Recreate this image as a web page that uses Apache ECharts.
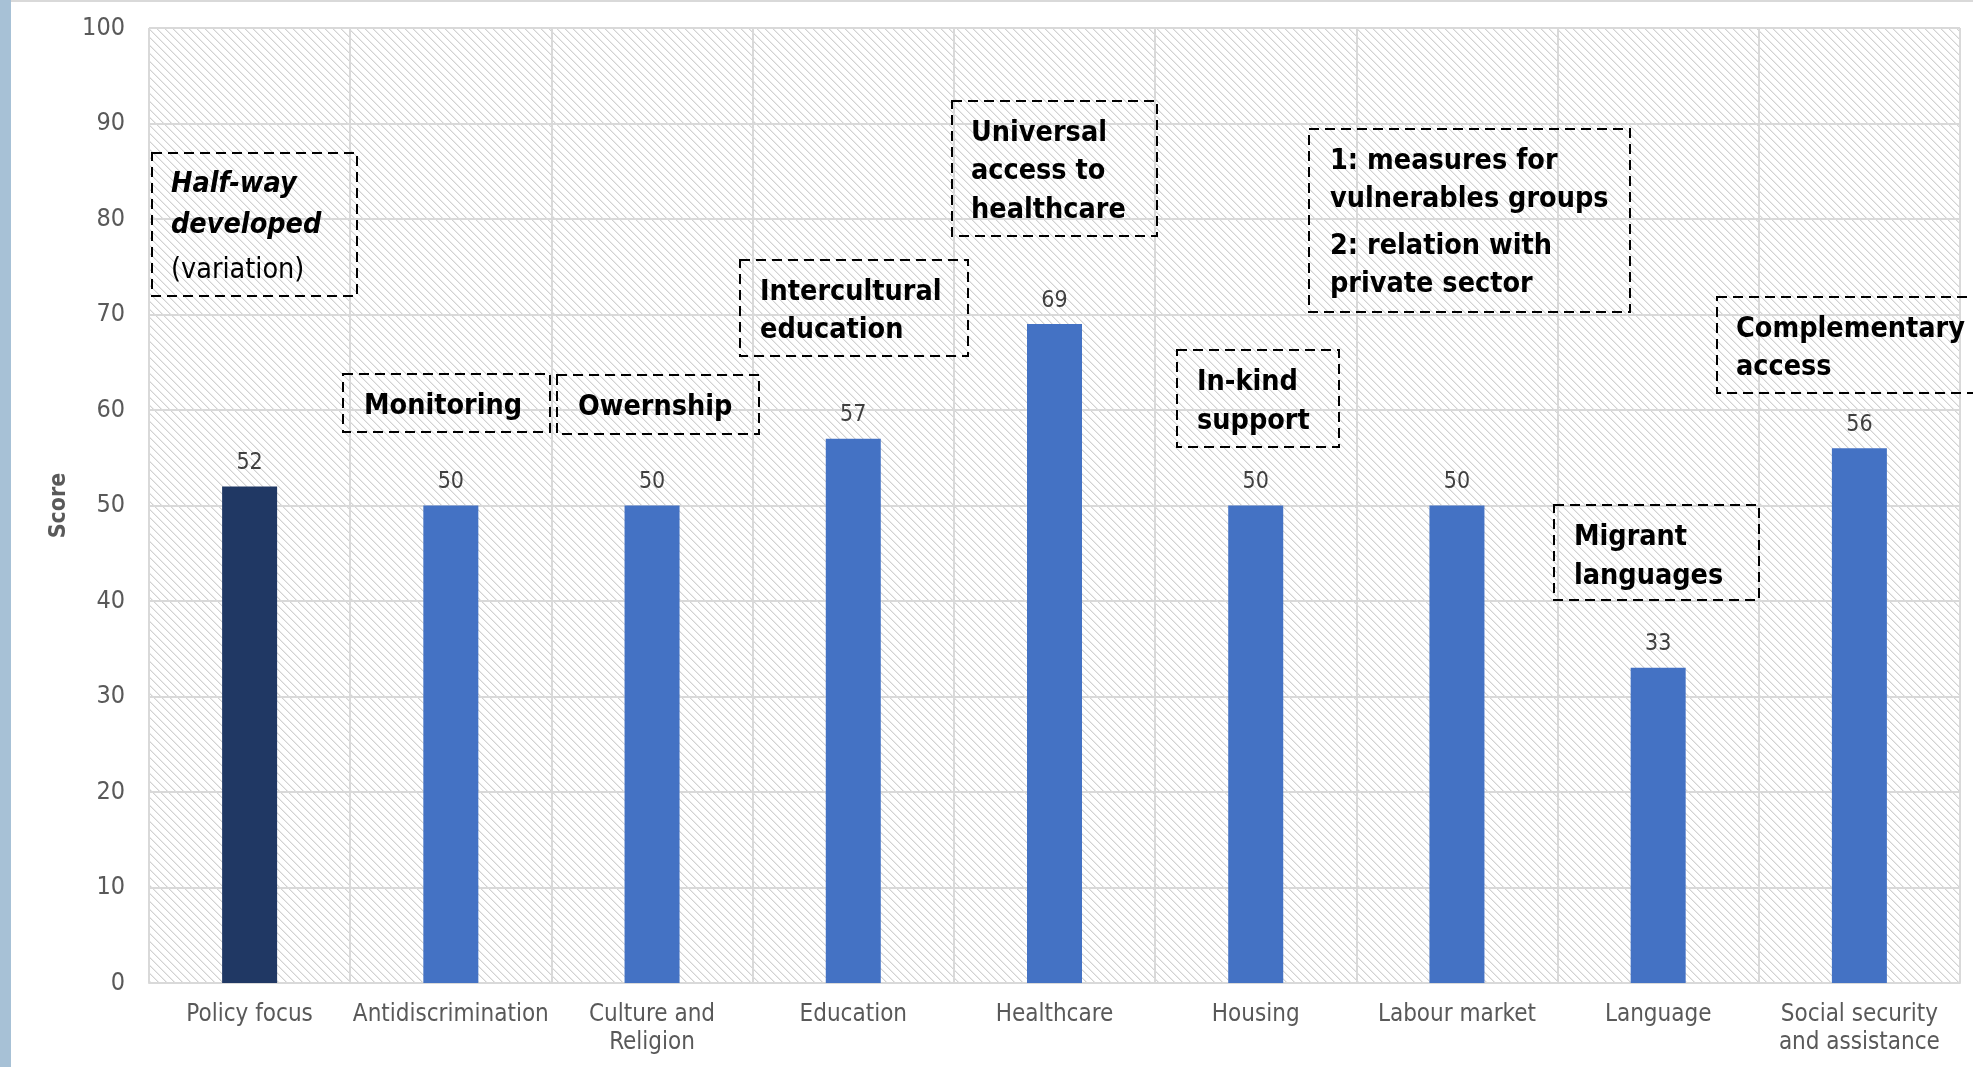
<!DOCTYPE html>
<html>
<head>
<meta charset="utf-8">
<title>Score by policy area</title>
<script src="https://cdn.jsdelivr.net/npm/echarts@6/dist/echarts.min.js"></script>
<style>
  html, body { margin: 0; padding: 0; background: #ffffff; }
  #chart { width: 1973px; height: 1067px; }
</style>
</head>
<body>
<div id="chart"></div>
<script>
// Policy areas and their scores
const categories = [
  'Policy focus', 'Antidiscrimination', 'Culture and\nReligion', 'Education',
  'Healthcare', 'Housing', 'Labour market', 'Language', 'Social security\nand assistance'
];
const scores = [52, 50, 50, 57, 69, 50, 50, 33, 56];
const yTicks = { min: 0, max: 100, interval: 10 };

const FONT = "'DejaVu Sans Condensed', 'DejaVu Sans', sans-serif";

// Diagonal hatch tile for the plot background
function hatchTile() {
  const c = document.createElement('canvas');
  c.width = 8; c.height = 8;
  const ctx = c.getContext('2d');
  ctx.fillStyle = '#ffffff';
  ctx.fillRect(0, 0, 8, 8);
  for (let i = 0; i < 8; i++) {
    ctx.fillStyle = '#d2d2d2';
    ctx.fillRect(i, i, 1, 1);
    ctx.fillStyle = '#ebebeb';
    ctx.fillRect((i + 1) % 8, i, 1, 1);
  }
  return c;
}

// Dashed note boxes placed over the plot
const notes = [
  { box: [152, 153, 205, 143], x: 171, lines: [['Half-way', 'bi', 185], ['developed', 'bi', 226], ['(variation)', 'r', 271]] },
  { box: [343, 374, 207, 58], x: 364, lines: [['Monitoring', 'b', 407]] },
  { box: [557, 375, 202, 59], x: 578, lines: [['Owernship', 'b', 408]] },
  { box: [740, 260, 228, 96], x: 760, lines: [['Intercultural', 'b', 293], ['education', 'b', 331]] },
  { box: [952, 101, 205, 135], x: 971, lines: [['Universal', 'b', 134], ['access to', 'b', 172], ['healthcare', 'b', 211]] },
  { box: [1309, 129, 321, 183], x: 1330, lines: [['1: measures for', 'b', 162], ['vulnerables groups', 'b', 200], ['2: relation with', 'b', 247], ['private sector', 'b', 285]] },
  { box: [1177, 350, 162, 97], x: 1197, lines: [['In-kind', 'b', 383], ['support', 'b', 422]] },
  { box: [1554, 505, 205, 95], x: 1574, lines: [['Migrant', 'b', 538], ['languages', 'b', 577]] },
  { box: [1717, 297, 290, 96], x: 1736, lines: [['Complementary', 'b', 330], ['access', 'b', 368]] }
];

const lineFonts = {
  b: 'bold 28.5px ' + FONT,
  bi: 'italic bold 28.5px ' + FONT,
  r: '28.5px ' + FONT
};

const graphics = [
  { type: 'rect', shape: { x: 0, y: 0, width: 11, height: 1067 }, style: { fill: '#a7c1d6' }, z: 10 },
  { type: 'rect', shape: { x: 11, y: 0, width: 1962, height: 2 }, style: { fill: '#d9d9d9' }, z: 10 }
];
notes.forEach(n => {
  graphics.push({
    type: 'rect',
    shape: { x: n.box[0], y: n.box[1], width: n.box[2], height: n.box[3] },
    style: { fill: 'none', stroke: '#000000', lineWidth: 2, lineDash: [10, 6] },
    z: 20
  });
  n.lines.forEach(l => {
    graphics.push({
      type: 'text',
      x: n.x, y: l[2],
      style: { text: l[0], font: lineFonts[l[1]], fill: '#000000', verticalAlign: 'middle', align: 'left' },
      z: 21
    });
  });
});

const chart = echarts.init(document.getElementById('chart'), null, { renderer: 'canvas' });

chart.setOption({
  animation: false,
  backgroundColor: '#ffffff',
  textStyle: { fontFamily: FONT },
  grid: {
    left: 149, right: 13, top: 28, bottom: 84,
    show: true,
    backgroundColor: { image: hatchTile(), repeat: 'repeat' },
    borderWidth: 0
  },
  xAxis: {
    type: 'category',
    data: categories,
    axisLine: { show: true, lineStyle: { color: '#d9d9d9', width: 2 } },
    axisTick: { show: false },
    splitLine: { show: true, lineStyle: { color: '#d9d9d9', width: 2 } },
    axisLabel: {
      color: '#595959', fontSize: 24, fontFamily: FONT,
      lineHeight: 28, margin: 18, interval: 0
    }
  },
  yAxis: {
    type: 'value',
    min: yTicks.min, max: yTicks.max, interval: yTicks.interval,
    name: 'Score',
    nameLocation: 'middle',
    nameGap: 78,
    nameTextStyle: { color: '#595959', fontSize: 23, fontWeight: 'bold', fontFamily: FONT },
    axisLine: { show: false },
    axisTick: { show: false },
    splitLine: { show: true, lineStyle: { color: '#d9d9d9', width: 2 } },
    axisLabel: { color: '#595959', fontSize: 25, fontFamily: FONT, margin: 24 }
  },
  series: [{
    type: 'bar',
    barWidth: 55,
    data: scores.map((v, i) => i === 0 ? { value: v, itemStyle: { color: '#203864' } } : v),
    itemStyle: { color: '#4472c4' },
    label: {
      show: true, position: 'top', distance: 12,
      color: '#404040', fontSize: 23, fontFamily: FONT
    },
    z: 5
  }],
  graphic: graphics
});
</script>
</body>
</html>
